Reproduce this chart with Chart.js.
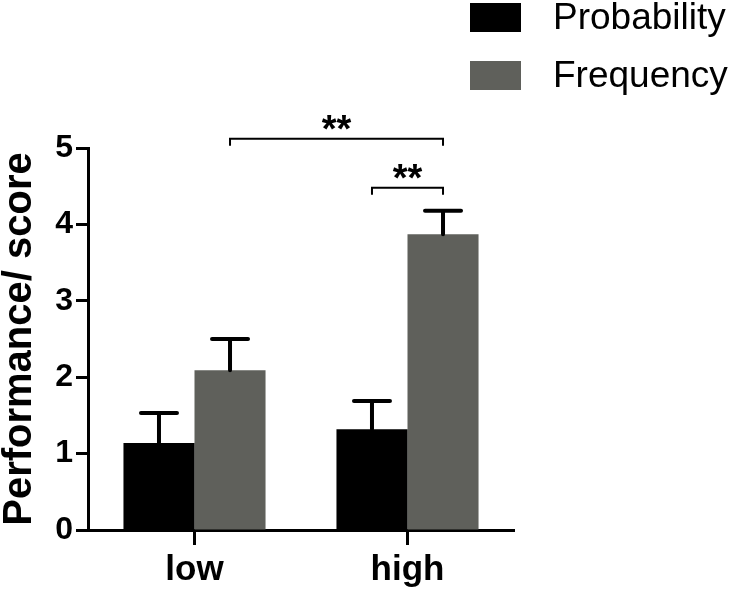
<!DOCTYPE html>
<html>
<head>
<meta charset="utf-8">
<script src="https://cdn.jsdelivr.net/npm/chart.js@4/dist/chart.umd.min.js"></script>
<style>
  html, body { margin: 0; padding: 0; background: #fff; }
  #wrap { width: 738px; height: 592px; position: relative; }
</style>
</head>
<body>
<div id="wrap"><canvas id="chart"></canvas></div>
<script>
const categories = ['low', 'high']
const probability = [1.14, 1.32]
const frequency = [2.09, 3.87]
const probabilityErr = [0.39, 0.37]
const frequencyErr = [0.41, 0.31]
const yTicks = [0, 1, 2, 3, 4, 5]

// significance brackets: [datasetIndex, categoryIndex] pairs, height in axis units
const sigFrom = [[1, 0], [0, 1]]
const sigTo = [[1, 1], [1, 1]]
const sigLevel = [5.12, 4.48]
const sigLabel = ['**', '**']

const FONT = '"Liberation Sans", Arial, Helvetica, sans-serif'
const GREY = '#5f605b'

const errorBars = {
  id: 'errorBars',
  afterDatasetsDraw(chart) {
    const { ctx } = chart
    const y = chart.scales.y
    const errs = [probabilityErr, frequencyErr]
    ctx.save()
    ctx.strokeStyle = '#000'
    ctx.lineWidth = 4
    ctx.lineCap = 'round'
    chart.data.datasets.forEach((ds, di) => {
      chart.getDatasetMeta(di).data.forEach((bar, i) => {
        const top = y.getPixelForValue(ds.data[i] + errs[di][i])
        ctx.beginPath()
        ctx.moveTo(bar.x, bar.y)
        ctx.lineTo(bar.x, top)
        ctx.moveTo(bar.x - 18, top)
        ctx.lineTo(bar.x + 18, top)
        ctx.stroke()
      })
    })
    ctx.restore()
  }
}

const significance = {
  id: 'significance',
  afterDraw(chart) {
    const { ctx } = chart
    const y = chart.scales.y
    ctx.save()
    ctx.strokeStyle = '#000'
    ctx.fillStyle = '#000'
    ctx.lineWidth = 2
    ctx.font = 'bold 38px ' + FONT
    ctx.textAlign = 'center'
    ctx.textBaseline = 'alphabetic'
    sigLevel.forEach((lvl, k) => {
      const a = chart.getDatasetMeta(sigFrom[k][0]).data[sigFrom[k][1]]
      const b = chart.getDatasetMeta(sigTo[k][0]).data[sigTo[k][1]]
      const py = y.getPixelForValue(lvl)
      ctx.beginPath()
      ctx.moveTo(a.x, py + 7)
      ctx.lineTo(a.x, py)
      ctx.lineTo(b.x, py)
      ctx.lineTo(b.x, py + 7)
      ctx.stroke()
      ctx.fillText(sigLabel[k], (a.x + b.x) / 2, py + 3)
    })
    ctx.restore()
  }
}

const sideLegend = {
  id: 'sideLegend',
  afterDraw(chart) {
    const { ctx } = chart
    ctx.save()
    ctx.font = '37px ' + FONT
    ctx.textBaseline = 'alphabetic'
    ctx.textAlign = 'left'
    chart.data.datasets.forEach((ds, i) => {
      const top = 3 + i * 58
      ctx.fillStyle = ds.backgroundColor
      ctx.fillRect(470, top, 51, 29)
      ctx.fillStyle = '#000'
      ctx.fillText(ds.label, 553, top + 26)
    })
    ctx.restore()
  }
}

new Chart(document.getElementById('chart'), {
  type: 'bar',
  data: {
    labels: categories,
    datasets: [
      { label: 'Probability', data: probability, backgroundColor: '#000000' },
      { label: 'Frequency', data: frequency, backgroundColor: GREY }
    ]
  },
  options: {
    responsive: true,
    maintainAspectRatio: false,
    animation: false,
    layout: { padding: { top: 148, right: 224, left: 0, bottom: 0 } },
    datasets: { bar: { categoryPercentage: 0.667, barPercentage: 1.0 } },
    plugins: { legend: { display: false }, tooltip: { enabled: false } },
    scales: {
      x: {
        afterFit: (s) => { s.height = 62 },
        grid: {
          offset: false,
          drawOnChartArea: false,
          tickLength: 15,
          tickWidth: 3,
          tickColor: '#000'
        },
        border: { color: '#000', width: 3 },
        ticks: {
          color: '#000',
          padding: 4,
          font: { family: FONT, size: 35, weight: 'bold' }
        }
      },
      y: {
        min: 0,
        max: 5,
        afterFit: (s) => { s.width = 88 },
        afterBuildTicks: (s) => { s.ticks = yTicks.map(v => ({ value: v })) },
        grid: {
          drawOnChartArea: false,
          tickLength: 12,
          tickWidth: 3,
          tickColor: '#000'
        },
        border: { color: '#000', width: 3 },
        ticks: {
          color: '#000',
          padding: 3,
          font: { family: FONT, size: 32, weight: 'bold' }
        },
        title: {
          display: true,
          text: 'Performance/ score',
          color: '#000',
          padding: 0,
          font: { family: FONT, size: 40, weight: 'bold', lineHeight: 1 }
        }
      }
    }
  },
  plugins: [errorBars, significance, sideLegend]
})
</script>
</body>
</html>
